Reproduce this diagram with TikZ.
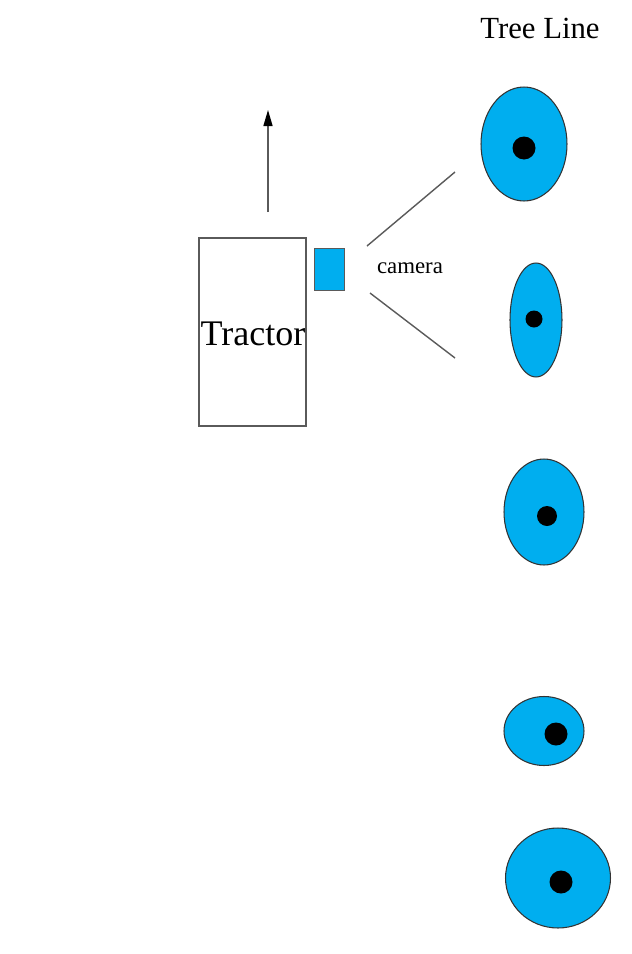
\documentclass[tikz,border=0pt]{standalone}
\usepackage{fontspec}
\setmainfont{Liberation Serif}
\usepackage{tikz}
\usetikzlibrary{shapes.geometric, arrows.meta, positioning, calc}
\definecolor{copa}{RGB}{0,174,239}
\definecolor{linea}{RGB}{90,90,90}
\tikzset{
  tractorbox/.style={rectangle, draw=linea, thick, minimum width=2.14cm, minimum height=3.76cm, inner sep=0pt},
  cambox/.style={rectangle, draw=linea, fill=copa, minimum width=0.6cm, minimum height=0.84cm, inner sep=0pt},
  copa/.style={ellipse, draw=black!80, semithick, fill=copa, inner sep=0pt},
  tronco/.style={circle, fill=black, minimum size=0.46cm, inner sep=0pt},
  flecha/.style={-{Triangle[length=3.2mm, width=1.8mm, black]}, linea, thick},
  vista/.style={linea, thick}
}
\begin{document}
\begin{tikzpicture}[x=0.02cm, y=-0.02cm]
    \useasboundingbox (0,0) rectangle (632,954);
    % tractor y camara
    \node[tractorbox] (tractor) at (252.5,332) {};
    \node[font=\fontsize{20.5}{24}\selectfont] (tlabel) at (253,334) {Tractor};
    \node[cambox] (cam) at (329,269) {};
    \node[font=\fontsize{13}{15}\selectfont] (clabel) at (410,268) {camera};
    \coordinate (mov0) at (268,212);
    \coordinate (mov1) at (268,110);
    \draw[flecha] (mov0) -- (mov1);
    \coordinate (v1a) at (367,246);
    \coordinate (v1b) at (455,172);
    \coordinate (v2a) at (370,293);
    \coordinate (v2b) at (455,358);
    \draw[vista] (v1a) -- (v1b);
    \draw[vista] (v2a) -- (v2b);
    % linea de arboles
    \node[font=\fontsize{17.5}{21}\selectfont] (tline) at (540,28) {Tree Line};
    \node[copa, minimum width=1.72cm, minimum height=2.28cm] (a1) at (524,144) {};
    \node[tronco] (b1) at (524,148) {};
    \node[copa, minimum width=1.04cm, minimum height=2.28cm] (a2) at (536,320) {};
    \node[tronco, minimum size=0.34cm] (b2) at (534,319) {};
    \node[copa, minimum width=1.6cm, minimum height=2.12cm] (a3) at (544,512) {};
    \node[tronco, minimum size=0.4cm] (b3) at (547,516) {};
    \node[copa, minimum width=1.6cm, minimum height=1.38cm] (a4) at (544,731) {};
    \node[tronco] (b4) at (556,734) {};
    \node[copa, minimum width=2.1cm, minimum height=2.0cm] (a5) at (558,878) {};
    \node[tronco] (b5) at (561,882) {};
\end{tikzpicture}
\end{document}
